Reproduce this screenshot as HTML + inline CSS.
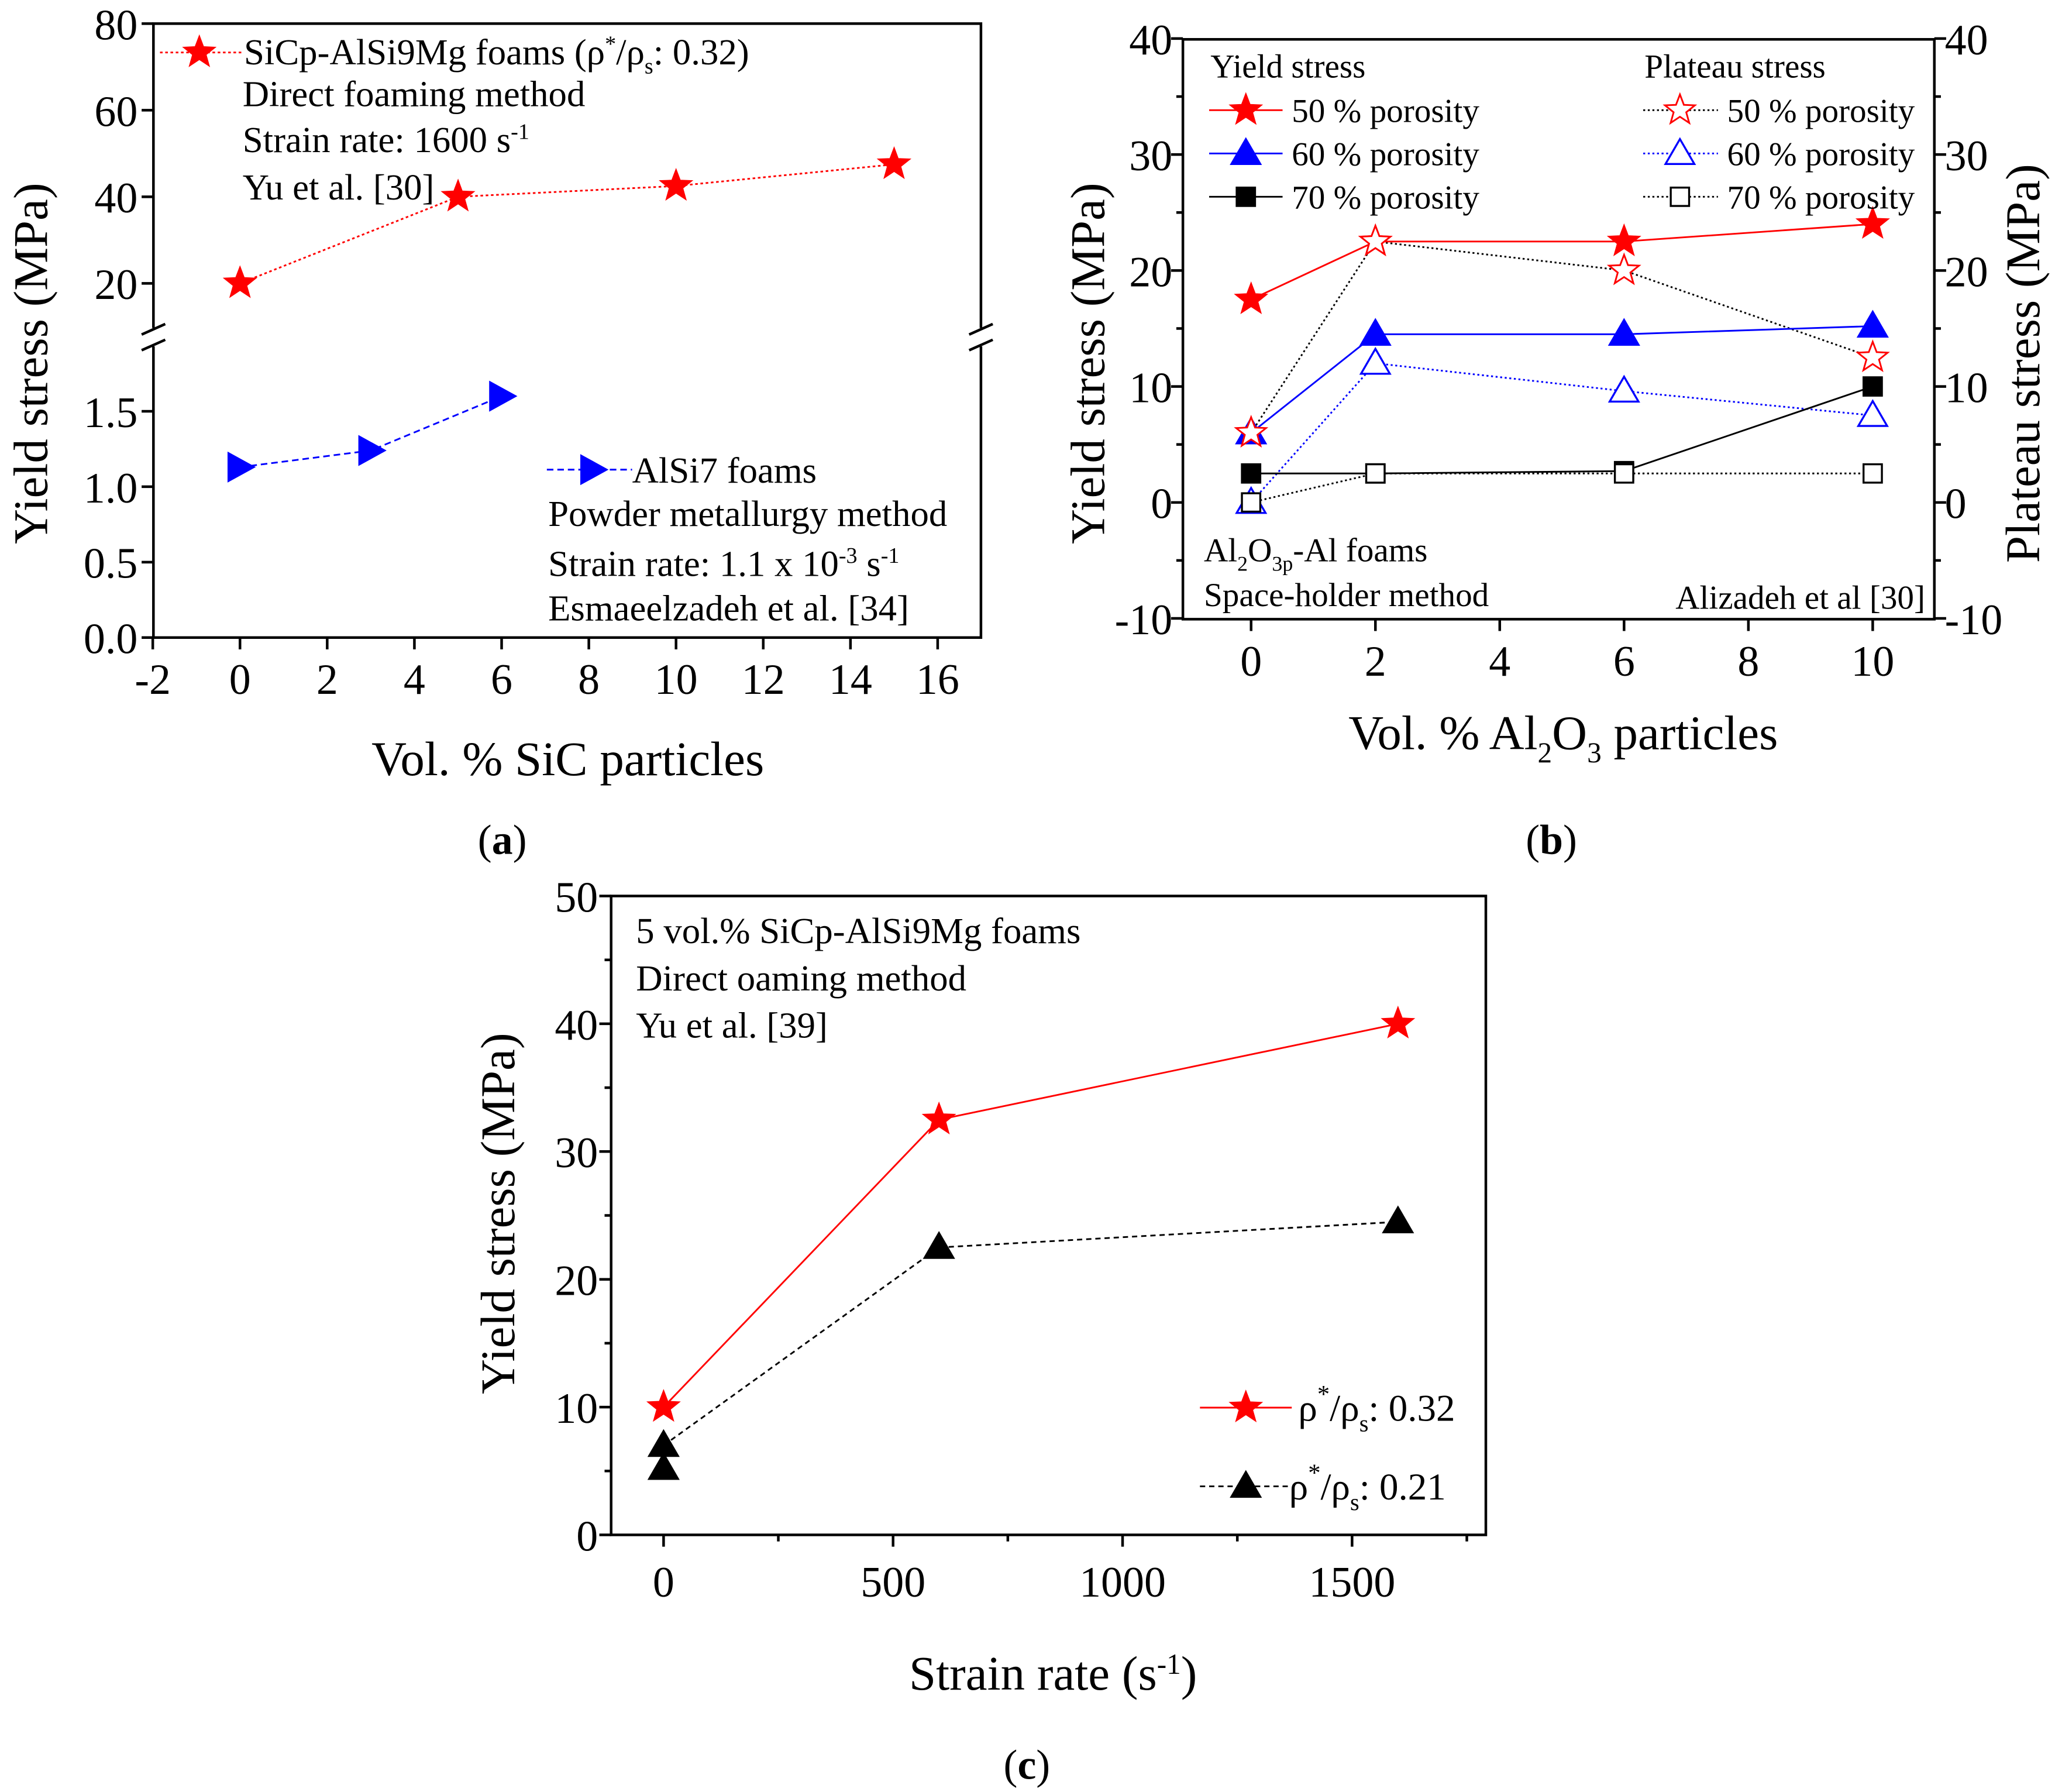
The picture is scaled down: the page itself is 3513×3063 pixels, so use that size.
<!DOCTYPE html>
<html><head><meta charset="utf-8"><style>
html,body{margin:0;padding:0;background:#fff}
svg{display:block}
text{font-family:"Liberation Serif",serif;fill:#000}
</style></head><body>
<svg id="fig" width="3513" height="3063" viewBox="0 0 1567 1366" preserveAspectRatio="none" xmlns="http://www.w3.org/2000/svg">
<g id="pa"></g>
<g id="pb"></g>
<g id="pc"></g>
</svg>
<script>
// Panel a data
const aRedX = [0, 5, 10, 15];
const aRedY = [20, 40, 42.5, 47.5];
const aBlueX = [0, 3, 6];
const aBlueY = [1.13, 1.24, 1.6];
const aXTicks = [-2, 0, 2, 4, 6, 8, 10, 12, 14, 16];
const aYTicksUp = [20, 40, 60, 80];
const aYTicksLo = [0.0, 0.5, 1.0, 1.5];
// Panel b data
const bX = [0, 2, 6, 10];
const bY50 = [17.5, 22.5, 22.5, 24];
const bY60 = [6, 14.5, 14.5, 15.2];
const bY70 = [2.5, 2.5, 2.7, 10];
const bP50 = [6, 22.5, 20, 12.5];
const bP60 = [0, 12, 9.6, 7.5];
const bP70 = [0, 2.5, 2.5, 2.5];
const bXTicks = [0, 2, 4, 6, 8, 10];
const bYTicks = [-10, 0, 10, 20, 30, 40];
// Panel c data
const cX = [0, 600, 1600];
const cRed = [10, 32.5, 40];
const cBlack = [7, 22.5, 24.5];
const cExtraX = [0];
const cExtraY = [5.2];
const cXTicks = [0, 500, 1000, 1500];
const cYTicks = [0, 10, 20, 30, 40, 50];

const NS = "http://www.w3.org/2000/svg";
const TK = 33, AX = 37, AN = 28, LG = 25.5;
function mk(parent, tag, attrs, txt){
  const e = document.createElementNS(NS, tag);
  for (const k in attrs) e.setAttribute(k, attrs[k]);
  if (txt !== undefined) e.textContent = txt;
  parent.appendChild(e); return e;
}
function starPts(cx, cy, r){
  let p = [];
  for (let i=0;i<10;i++){
    const rr = i%2===0 ? r : r*0.42;
    const a = -Math.PI/2 + i*Math.PI/5;
    p.push((cx+rr*Math.cos(a)).toFixed(1)+","+(cy+rr*Math.sin(a)).toFixed(1));
  }
  return p.join(" ");
}
function marker(g, type, cx, cy, color, filled, name){
  let e;
  const fill = filled ? color : "#fff";
  if (type==="star") e = mk(g,"polygon",{points:starPts(cx,cy,12),fill:fill,stroke:color,"stroke-width":1.3});
  else if (type==="tri") e = mk(g,"polygon",{points:`${cx},${cy-11} ${cx+11},${cy+8} ${cx-11},${cy+8}`,fill:fill,stroke:color,"stroke-width":1.5});
  else if (type==="rtri") e = mk(g,"polygon",{points:`${cx-9},${cy-11} ${cx+11},${cy} ${cx-9},${cy+11}`,fill:fill,stroke:color,"stroke-width":1});
  else e = mk(g,"rect",{x:cx-7,y:cy-7,width:14,height:14,fill:fill,stroke:color,"stroke-width":1.5});
  
  
  return e;
}
function line(g, xs, ys, sx, sy, color, dash, name, w){
  const pts = xs.map((x,i)=>sx(x).toFixed(1)+","+sy(ys[i]).toFixed(1)).join(" ");
  const e = mk(g,"polyline",{points:pts,fill:"none",stroke:color,"stroke-width":w||1.3,"stroke-dasharray":dash||"none"});
  
  
  return e;
}
function txt(g, x, y, s, size, anchor, name, extra){
  const e = mk(g,"text",Object.assign({x:x,y:y,"font-size":size,"text-anchor":anchor||"start"},extra||{}));
  e.innerHTML = s;
  
  
  return e;
}

// ---------- Panel a ----------
(function(){
  const g = document.getElementById('pa');
  const L=117,R=748,T=18,B=486;
  const sx = x => 183 + x*33.25;
  const syU = y => 18 + (80-y)*3.3;
  const syL = y => 486 - y*115;
  const box = mk(g,"rect",{x:L,y:T,width:R-L,height:B-T,fill:"none",stroke:"#000","stroke-width":2});
   
  mk(g,"rect",{x:L-10,y:250,width:20,height:14,fill:"#fff"});
  mk(g,"rect",{x:R-10,y:250,width:20,height:14,fill:"#fff"});
  [L,R].forEach(xx=>{
    mk(g,"line",{x1:xx-9,y1:255,x2:xx+9,y2:247,stroke:"#000","stroke-width":2});
    mk(g,"line",{x1:xx-9,y1:267,x2:xx+9,y2:259,stroke:"#000","stroke-width":2});
  });
  aXTicks.forEach(v=>{
    mk(g,"line",{x1:sx(v),y1:B,x2:sx(v),y2:B+9,stroke:"#000","stroke-width":2});
    txt(g,sx(v),B+43,String(v),TK,"middle","x-tick-label-a");
  });
  aYTicksUp.forEach(v=>{
    mk(g,"line",{x1:L-9,y1:syU(v),x2:L,y2:syU(v),stroke:"#000","stroke-width":2});
    txt(g,L-12,syU(v)+12,String(v),TK,"end","y-tick-label-a-upper");
  });
  aYTicksLo.forEach(v=>{
    mk(g,"line",{x1:L-9,y1:syL(v),x2:L,y2:syL(v),stroke:"#000","stroke-width":2});
    txt(g,L-12,syL(v)+12,v.toFixed(1),TK,"end","y-tick-label-a-lower");
  });
  line(g,aRedX,aRedY,sx,syU,"#f00","2,2","red-series-line-a");
  aRedX.forEach((x,i)=>marker(g,"star",sx(x),syU(aRedY[i]),"#f00",true,"red-star-point-a"));
  line(g,aBlueX,aBlueY,sx,syL,"#00f","5,3","blue-series-line-a");
  aBlueX.forEach((x,i)=>marker(g,"rtri",sx(x),syL(aBlueY[i]),"#00f",true,"blue-triangle-point-a"));
  mk(g,"line",{x1:122,y1:40,x2:185,y2:40,stroke:"#f00","stroke-width":1.3,"stroke-dasharray":"2,2"});
  marker(g,"star",152,40,"#f00",true,"legend-marker-red-a");
  txt(g,186,49,'SiCp-AlSi9Mg foams (ρ<tspan dy="-10" font-size="17">*</tspan><tspan dy="10">/ρ</tspan><tspan dy="7" font-size="17">s</tspan><tspan dy="-7">: 0.32)</tspan>',AN,"start","legend-text-red-a");
  txt(g,185,81,"Direct foaming method",AN,"start","annotation-a");
  txt(g,185,116,'Strain rate: 1600 s<tspan dy="-10" font-size="17">-1</tspan>',AN,"start","annotation-a");
  txt(g,185,152,"Yu et al. [30]",AN,"start","annotation-a");
  mk(g,"line",{x1:417,y1:358,x2:482,y2:358,stroke:"#00f","stroke-width":1.3,"stroke-dasharray":"5,3"});
  marker(g,"rtri",452,358,"#00f",true,"legend-marker-blue-a");
  txt(g,482,368,"AlSi7 foams",AN,"start","legend-text-blue-a");
  txt(g,418,401,"Powder metallurgy method",AN,"start","annotation-a");
  txt(g,418,439,'Strain rate: 1.1 x 10<tspan dy="-10" font-size="17">-3</tspan><tspan dy="10"> s</tspan><tspan dy="-10" font-size="17">-1</tspan>',AN,"start","annotation-a");
  txt(g,418,473,"Esmaeelzadeh et al. [34]",AN,"start","annotation-a");
  txt(g,36,277,"Yield stress (MPa)",AX,"middle","y-axis-title-a",{transform:"rotate(-90 36 277)"});
  txt(g,433,591,"Vol. % SiC particles",AX,"middle","x-axis-title-a");
  txt(g,383,651,'(<tspan font-weight="bold">a</tspan>)',32,"middle","panel-label-a");
})();

// ---------- Panel b ----------
(function(){
  const g = document.getElementById('pb');
  const L=902,R=1475,T=30,B=472;
  const sx = x => 954 + x*47.4;
  const sy = y => 383 - y*8.84;
  const box = mk(g,"rect",{x:L,y:T,width:R-L,height:B-T,fill:"none",stroke:"#000","stroke-width":2});
   
  bXTicks.forEach(v=>{
    mk(g,"line",{x1:sx(v),y1:B,x2:sx(v),y2:B+9,stroke:"#000","stroke-width":2});
    txt(g,sx(v),B+43,String(v),TK,"middle","x-tick-label-b");
  });
  bYTicks.forEach(v=>{
    mk(g,"line",{x1:L-9,y1:sy(v),x2:L,y2:sy(v),stroke:"#000","stroke-width":2});
    txt(g,L-8,sy(v)+12,String(v),TK,"end","y-tick-label-b-left");
    mk(g,"line",{x1:R,y1:sy(v),x2:R+9,y2:sy(v),stroke:"#000","stroke-width":2});
    txt(g,R+8,sy(v)+12,String(v),TK,"start","y-tick-label-b-right");
    if (v<40){
      mk(g,"line",{x1:R,y1:sy(v+5),x2:R+5,y2:sy(v+5),stroke:"#000","stroke-width":2});
      mk(g,"line",{x1:L-5,y1:sy(v+5),x2:L,y2:sy(v+5),stroke:"#000","stroke-width":2});
    }
  });
  line(g,bX,bP50,sx,sy,"#000","1.5,2","plateau-50-line");
  line(g,bX,bP60,sx,sy,"#00f","1.5,2","plateau-60-line");
  line(g,bX,bP70,sx,sy,"#000","1.5,2","plateau-70-line");
  line(g,bX,bY50,sx,sy,"#f00",null,"yield-50-line");
  line(g,bX,bY60,sx,sy,"#00f",null,"yield-60-line");
  line(g,bX,bY70,sx,sy,"#000",null,"yield-70-line");
  bX.forEach((x,i)=>{
    marker(g,"tri",sx(x),sy(bY60[i]),"#00f",true,"yield-60-point");
    marker(g,"sq",sx(x),sy(bY70[i]),"#000",true,"yield-70-point");
    marker(g,"star",sx(x),sy(bY50[i]),"#f00",true,"yield-50-point");
    marker(g,"tri",sx(x),sy(bP60[i]),"#00f",false,"plateau-60-point");
    marker(g,"sq",sx(x),sy(bP70[i]),"#000",false,"plateau-70-point");
    marker(g,"star",sx(x),sy(bP50[i]),"#f00",false,"plateau-50-point");
  });
  txt(g,923,59,"Yield stress",LG,"start","legend-title-yield");
  txt(g,1254,59,"Plateau stress",LG,"start","legend-title-plateau");
  const ent=[["star","#f00","50"],["tri","#00f","60"],["sq","#000","70"]];
  ent.forEach((e,i)=>{
    const y=84+i*33;
    mk(g,"line",{x1:922,y1:y,x2:978,y2:y,stroke:e[1],"stroke-width":1.3});
    marker(g,e[0],950,y,e[1],true,"legend-marker-yield-"+e[2]);
    txt(g,985,y+9,e[2]+" % porosity",LG,"start","legend-text-yield-"+e[2]);
    mk(g,"line",{x1:1253,y1:y,x2:1310,y2:y,stroke:e[1]==="#00f"?"#00f":"#000","stroke-width":1.3,"stroke-dasharray":"1.5,2"});
    marker(g,e[0],1281,y,e[1],false,"legend-marker-plateau-"+e[2]);
    txt(g,1317,y+9,e[2]+" % porosity",LG,"start","legend-text-plateau-"+e[2]);
  });
  txt(g,918,428,'Al<tspan dy="7" font-size="16">2</tspan><tspan dy="-7">O</tspan><tspan dy="7" font-size="16">3p</tspan><tspan dy="-7">-Al foams</tspan>',LG,"start","annotation-b");
  txt(g,918,462,"Space-holder method",LG,"start","annotation-b");
  txt(g,1468,464,"Alizadeh et al [30]",LG,"end","citation-b");
  txt(g,842,277,"Yield stress (MPa)",AX,"middle","y-axis-title-b-left",{transform:"rotate(-90 842 277)"});
  txt(g,1555,277,"Plateau stress (MPa)",AX,"middle","y-axis-title-b-right",{transform:"rotate(-90 1555 277)"});
  txt(g,1192,571,'Vol. % Al<tspan dy="10" font-size="22">2</tspan><tspan dy="-10">O</tspan><tspan dy="10" font-size="22">3</tspan><tspan dy="-10"> particles</tspan>',AX,"middle","x-axis-title-b");
  txt(g,1183,651,'(<tspan font-weight="bold">b</tspan>)',32,"middle","panel-label-b");
})();

// ---------- Panel c ----------
(function(){
  const g = document.getElementById('pc');
  const L=466,R=1133,T=683,B=1170;
  const sx = x => 506 + x*0.35;
  const sy = y => 1170 - y*9.74;
  const box = mk(g,"rect",{x:L,y:T,width:R-L,height:B-T,fill:"none",stroke:"#000","stroke-width":2});
   
  cXTicks.forEach(v=>{
    mk(g,"line",{x1:sx(v),y1:B,x2:sx(v),y2:B+9,stroke:"#000","stroke-width":2});
    mk(g,"line",{x1:sx(v+250),y1:B,x2:sx(v+250),y2:B+5,stroke:"#000","stroke-width":2});
    txt(g,sx(v),B+47,String(v),TK,"middle","x-tick-label-c");
  });
  cYTicks.forEach(v=>{
    mk(g,"line",{x1:L-9,y1:sy(v),x2:L,y2:sy(v),stroke:"#000","stroke-width":2});
    if (v<50) mk(g,"line",{x1:L-5,y1:sy(v+5),x2:L,y2:sy(v+5),stroke:"#000","stroke-width":2});
    txt(g,L-10,sy(v)+12,String(v),TK,"end","y-tick-label-c");
  });
  line(g,cX,cBlack,sx,sy,"#000","4,3","black-series-line-c");
  line(g,cX,cRed,sx,sy,"#f00",null,"red-series-line-c");
  cX.forEach((x,i)=>marker(g,"tri",sx(x),sy(cBlack[i]),"#000",true,"black-triangle-point-c"));
  cExtraX.forEach((x,i)=>marker(g,"tri",sx(x),sy(cExtraY[i]),"#000",true,"black-triangle-extra-point-c"));
  cX.forEach((x,i)=>marker(g,"star",sx(x),sy(cRed[i]),"#f00",true,"red-star-point-c"));
  txt(g,485,719,"5 vol.% SiCp-AlSi9Mg foams",AN,"start","annotation-c");
  txt(g,485,755,"Direct oaming method",AN,"start","annotation-c");
  txt(g,485,791,"Yu et al. [39]",AN,"start","annotation-c");
  mk(g,"line",{x1:915,y1:1073,x2:985,y2:1073,stroke:"#f00","stroke-width":1.3});
  marker(g,"star",950,1073,"#f00",true,"legend-marker-red-c");
  txt(g,990,1083,'ρ<tspan dy="-14" font-size="19">*</tspan><tspan dy="14">/ρ</tspan><tspan dy="8" font-size="18">s</tspan><tspan dy="-8">: 0.32</tspan>',29,"start","legend-text-red-c");
  mk(g,"line",{x1:915,y1:1133,x2:985,y2:1133,stroke:"#000","stroke-width":1.3,"stroke-dasharray":"4,3"});
  marker(g,"tri",950,1133,"#000",true,"legend-marker-black-c");
  txt(g,983,1143,'ρ<tspan dy="-14" font-size="19">*</tspan><tspan dy="14">/ρ</tspan><tspan dy="8" font-size="18">s</tspan><tspan dy="-8">: 0.21</tspan>',29,"start","legend-text-black-c");
  txt(g,392,925,"Yield stress (MPa)",AX,"middle","y-axis-title-c",{transform:"rotate(-90 392 925)"});
  txt(g,803,1288,'Strain rate (s<tspan dy="-12" font-size="22">-1</tspan><tspan dy="12">)</tspan>',AX,"middle","x-axis-title-c");
  txt(g,783,1356,'(<tspan font-weight="bold">c</tspan>)',32,"middle","panel-label-c");
})();
</script>
</body></html>
